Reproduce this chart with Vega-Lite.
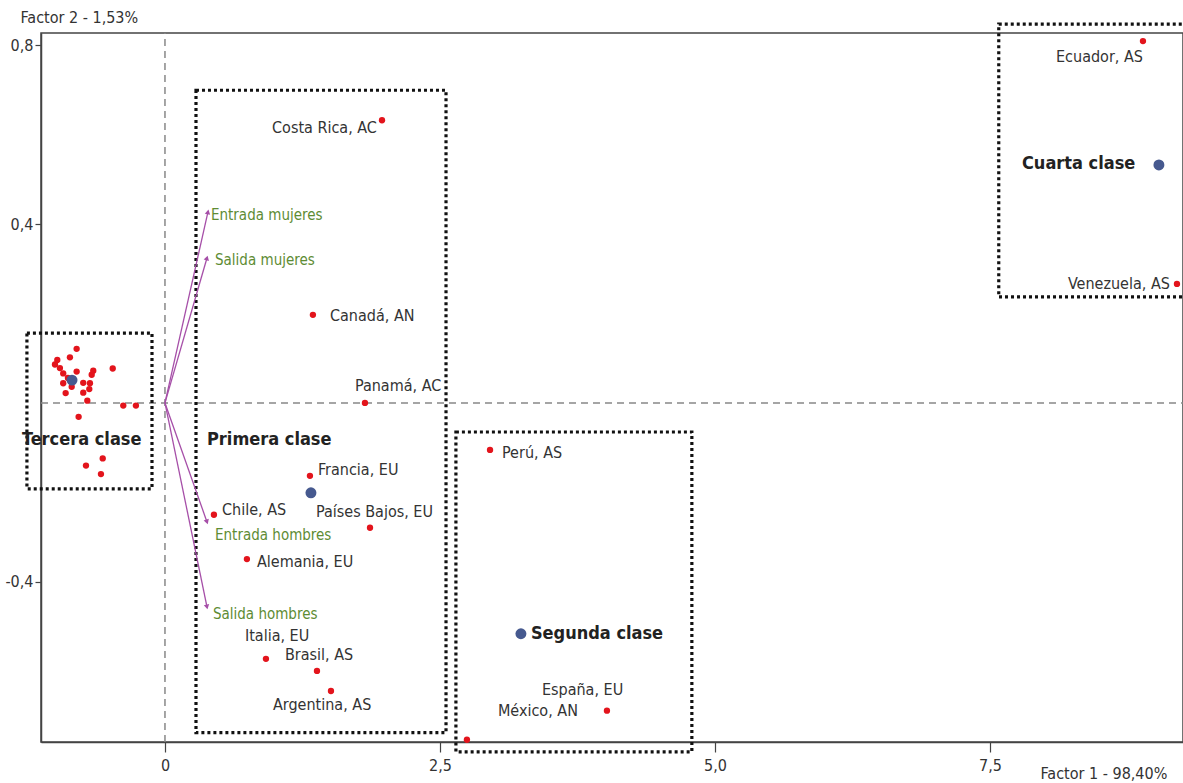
{
  "$schema": "https://vega.github.io/schema/vega-lite/v6.json",
  "width": 1142,
  "height": 709,
  "autosize": {"type": "none"},
  "padding": {"left": 41, "top": 33, "right": 0, "bottom": 41},
  "background": "white",
  "config": {
    "view": {"stroke": "#444", "strokeWidth": 1.5},
    "font": "Liberation Sans Narrow, DejaVu Sans Condensed, sans-serif",
    "axis": {"grid": false, "domainColor": "#444", "domainWidth": 1.5, "tickColor": "#444", "tickWidth": 1.2, "labelColor": "#333", "titleColor": "#333", "labelFont": "Liberation Sans Narrow, DejaVu Sans Condensed, sans-serif", "titleFont": "Liberation Sans Narrow, DejaVu Sans Condensed, sans-serif"}
  },
  "datasets": {
    "refs": [
      {"x": 0, "x2": 0, "y": -0.758, "y2": 0.827},
      {"x": -1.127, "x2": 9.255, "y": 0, "y2": 0}
    ],
    "boxes": [
      {"name": "Tercera", "x": -1.255, "x2": -0.118, "y": 0.156, "y2": -0.192},
      {"name": "Primera", "x": 0.282, "x2": 2.555, "y": 0.699, "y2": -0.737},
      {"name": "Segunda", "x": 2.645, "x2": 4.79, "y": -0.065, "y2": -0.78},
      {"name": "Cuarta", "x": 7.58, "x2": 9.3, "y": 0.847, "y2": 0.237}
    ],
    "arrows": [
      {"name": "Entrada mujeres", "x": 0, "y": 0, "x2": 0.391, "y2": 0.427},
      {"name": "Salida mujeres", "x": 0, "y": 0, "x2": 0.382, "y2": 0.324},
      {"name": "Entrada hombres", "x": 0, "y": 0, "x2": 0.382, "y2": -0.266},
      {"name": "Salida hombres", "x": 0, "y": 0, "x2": 0.382, "y2": -0.456}
    ],
    "points": [
      {"name": "Ecuador, AS", "x": 8.891, "y": 0.809},
      {"name": "Venezuela, AS", "x": 9.2, "y": 0.266},
      {"name": "Costa Rica, AC", "x": 1.973, "y": 0.632},
      {"name": "Canadá, AN", "x": 1.345, "y": 0.197},
      {"name": "Panamá, AC", "x": 1.818, "y": 0.0},
      {"name": "Perú, AS", "x": 2.955, "y": -0.105},
      {"name": "Francia, EU", "x": 1.318, "y": -0.163},
      {"name": "Países Bajos, EU", "x": 1.864, "y": -0.279},
      {"name": "Chile, AS", "x": 0.445, "y": -0.25},
      {"name": "Alemania, EU", "x": 0.745, "y": -0.349},
      {"name": "Italia, EU", "x": 0.918, "y": -0.572},
      {"name": "Brasil, AS", "x": 1.382, "y": -0.599},
      {"name": "Argentina, AS", "x": 1.509, "y": -0.644},
      {"name": "España, EU", "x": 4.018, "y": -0.688},
      {"name": "México, AN", "x": 2.745, "y": -0.753},
      {"name": "", "x": -0.803, "y": 0.121},
      {"name": "", "x": -0.864, "y": 0.102},
      {"name": "", "x": -0.979, "y": 0.096},
      {"name": "", "x": -1.0, "y": 0.086},
      {"name": "", "x": -0.955, "y": 0.078},
      {"name": "", "x": -0.925, "y": 0.066},
      {"name": "", "x": -0.803, "y": 0.07},
      {"name": "", "x": -0.652, "y": 0.072},
      {"name": "", "x": -0.666, "y": 0.063},
      {"name": "", "x": -0.743, "y": 0.045},
      {"name": "", "x": -0.682, "y": 0.044},
      {"name": "", "x": -0.925, "y": 0.044},
      {"name": "", "x": -0.848, "y": 0.036},
      {"name": "", "x": -0.903, "y": 0.022},
      {"name": "", "x": -0.743, "y": 0.023},
      {"name": "", "x": -0.688, "y": 0.031},
      {"name": "", "x": -0.706, "y": 0.005},
      {"name": "", "x": -0.475, "y": 0.077},
      {"name": "", "x": -0.379, "y": -0.006},
      {"name": "", "x": -0.264, "y": -0.006},
      {"name": "", "x": -0.785, "y": -0.031},
      {"name": "", "x": -0.566, "y": -0.124},
      {"name": "", "x": -0.718, "y": -0.14},
      {"name": "", "x": -0.582, "y": -0.159},
      {"name": "", "x": -0.882, "y": 0.056}
    ],
    "centers": [
      {"name": "Tercera clase", "x": -0.845, "y": 0.051},
      {"name": "Primera clase", "x": 1.327, "y": -0.201},
      {"name": "Segunda clase", "x": 3.236, "y": -0.516},
      {"name": "Cuarta clase", "x": 9.036, "y": 0.532}
    ],
    "labels_left": [
      {"name": "Canadá, AN", "x": 1.5, "y": 0.194},
      {"name": "Panamá, AC", "x": 1.727, "y": 0.038},
      {"name": "Perú, AS", "x": 3.064, "y": -0.112},
      {"name": "Francia, EU", "x": 1.391, "y": -0.15},
      {"name": "Países Bajos, EU", "x": 1.373, "y": -0.244},
      {"name": "Chile, AS", "x": 0.518, "y": -0.239},
      {"name": "Alemania, EU", "x": 0.836, "y": -0.355},
      {"name": "Italia, EU", "x": 0.727, "y": -0.521},
      {"name": "Brasil, AS", "x": 1.091, "y": -0.563},
      {"name": "Argentina, AS", "x": 0.982, "y": -0.675},
      {"name": "España, EU", "x": 3.427, "y": -0.641},
      {"name": "México, AN", "x": 3.027, "y": -0.688}
    ],
    "labels_right": [
      {"name": "Ecuador, AS", "x": 8.891, "y": 0.773},
      {"name": "Venezuela, AS", "x": 9.136, "y": 0.266},
      {"name": "Costa Rica, AC", "x": 1.927, "y": 0.615}
    ],
    "var_labels": [
      {"name": "Entrada mujeres", "x": 0.418, "y": 0.42},
      {"name": "Salida mujeres", "x": 0.455, "y": 0.32},
      {"name": "Entrada hombres", "x": 0.455, "y": -0.295},
      {"name": "Salida hombres", "x": 0.436, "y": -0.472}
    ],
    "class_labels": [
      {"name": "Tercera clase", "x": -1.3, "y": -0.083},
      {"name": "Primera clase", "x": 0.382, "y": -0.083},
      {"name": "Segunda clase", "x": 3.327, "y": -0.516},
      {"name": "Cuarta clase", "x": 7.791, "y": 0.534}
    ]
  },
  "encoding": {
    "x": {
      "field": "x", "type": "quantitative",
      "scale": {"domain": [-1.127, 9.255], "nice": false, "zero": false},
      "axis": {
        "values": [0, 2.5, 5, 7.5],
        "labelExpr": "datum.value == 0 ? '0' : replace(format(datum.value, '.1f'), '.', ',')",
        "labelFontSize": 16, "tickSize": 10, "labelPadding": 5,
        "title": "Factor 1 - 98,40%", "titleFontSize": 16, "titleFontWeight": "normal",
        "titleAngle": 0, "titleAlign": "left", "titleBaseline": "middle",
        "titleX": 999, "titleY": 31
      }
    },
    "y": {
      "field": "y", "type": "quantitative",
      "scale": {"domain": [-0.758, 0.827], "nice": false, "zero": false},
      "axis": {
        "values": [0.8, 0.4, -0.4],
        "labelExpr": "replace(replace(format(datum.value, '.1f'), '.', ','), '−', '-')",
        "labelFontSize": 16, "tickSize": 6, "labelPadding": 2,
        "title": "Factor 2 - 1,53%", "titleFontSize": 16, "titleFontWeight": "normal",
        "titleAngle": 0, "titleAlign": "left", "titleBaseline": "middle",
        "titleX": -21, "titleY": -16
      }
    }
  },
  "layer": [
    {
      "data": {"name": "refs"},
      "mark": {"type": "rule", "color": "#888", "strokeWidth": 1.5, "strokeDash": [7, 5]},
      "encoding": {"x2": {"field": "x2"}, "y2": {"field": "y2"}}
    },
    {
      "data": {"name": "boxes"},
      "mark": {"type": "rect", "filled": false, "stroke": "#111", "strokeWidth": 3.2, "strokeDash": [3, 3], "clip": false},
      "encoding": {"x2": {"field": "x2"}, "y2": {"field": "y2"}}
    },
    {
      "data": {"name": "arrows"},
      "mark": {"type": "rule", "color": "#a64fa8", "strokeWidth": 1.3},
      "encoding": {"x2": {"field": "x2"}, "y2": {"field": "y2"}}
    },
    {
      "data": {"name": "arrows"},
      "transform": [{"calculate": "atan2(datum.x2 * 110, datum.y2 * 447.3) * 180 / PI", "as": "ang"}],
      "mark": {"type": "point", "shape": "triangle-up", "filled": true, "color": "#a64fa8", "size": 30, "opacity": 1},
      "encoding": {"x": {"field": "x2", "type": "quantitative"}, "y": {"field": "y2", "type": "quantitative"}, "angle": {"field": "ang", "type": "quantitative", "scale": null}}
    },
    {
      "data": {"name": "points"},
      "mark": {"type": "circle", "color": "#e3141c", "size": 40, "opacity": 1},
      "encoding": {}
    },
    {
      "data": {"name": "centers"},
      "mark": {"type": "circle", "color": "#46598f", "size": 120, "opacity": 1},
      "encoding": {}
    },
    {
      "data": {"name": "labels_left"},
      "mark": {"type": "text", "align": "left", "baseline": "middle", "fontSize": 16, "color": "#333"},
      "encoding": {"text": {"field": "name"}}
    },
    {
      "data": {"name": "labels_right"},
      "mark": {"type": "text", "align": "right", "baseline": "middle", "fontSize": 16, "color": "#333"},
      "encoding": {"text": {"field": "name"}}
    },
    {
      "data": {"name": "var_labels"},
      "mark": {"type": "text", "align": "left", "baseline": "middle", "fontSize": 15, "color": "#5e8c34"},
      "encoding": {"text": {"field": "name"}}
    },
    {
      "data": {"name": "class_labels"},
      "mark": {"type": "text", "align": "left", "baseline": "middle", "fontSize": 18, "fontWeight": "bold", "color": "#222"},
      "encoding": {"text": {"field": "name"}}
    }
  ]
}
